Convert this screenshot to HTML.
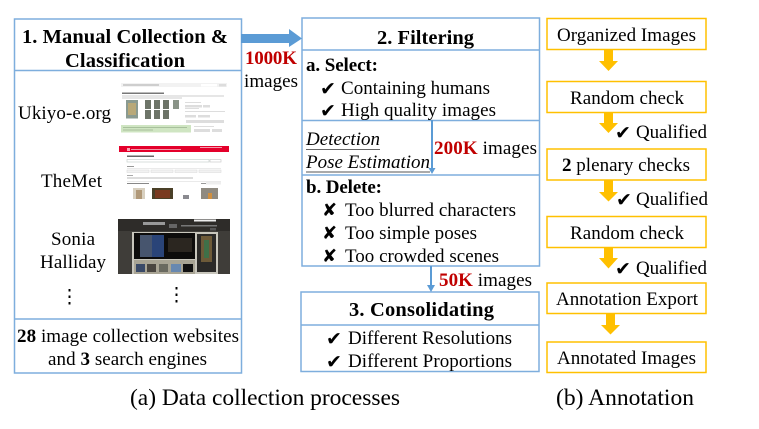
<!DOCTYPE html>
<html><head><meta charset="utf-8"><style>
html,body{margin:0;padding:0;background:#fff;width:759px;height:429px;overflow:hidden}
svg{display:block}
text{font-family:"Liberation Serif",serif;fill:#000;font-size:19px}
.b{font-weight:bold}
.t{font-weight:bold;font-size:20.5px}
.c{font-family:"DejaVu Sans",sans-serif;font-size:19px}
.x{font-family:"DejaVu Sans",sans-serif;font-size:18px}
.cap{font-size:23.5px}
.r{fill:#c00000;font-weight:bold}
</style></head><body>
<svg width="759" height="429" viewBox="0 0 759 429" xmlns="http://www.w3.org/2000/svg">
<!-- left box -->
<g fill="none" stroke="#7eaedd" stroke-width="1.5">
<rect x="14.5" y="19" width="227" height="354"/>
<path d="M14.5 70.5H241.5M14.5 319H241.5"/>
<rect x="302" y="18" width="237.5" height="248"/>
<path d="M302 50H539.5M302 120.5H539.5M302 175H539.5"/>
<rect x="301" y="292" width="238" height="79.500"/>
<path d="M301 325H539"/>
</g>
<!-- blue arrows -->
<path d="M241 34H289V29L302 38.500L289 47V43H241Z" fill="#5b9bd5"/>
<path d="M432 120V168M431 266V286" stroke="#5b9bd5" stroke-width="2" fill="none"/>
<path d="M428.500 168H435.500L432 174Z" fill="#5b9bd5"/>
<path d="M427 285H435L431 292Z" fill="#5b9bd5"/>
<!-- right boxes -->
<g fill="none" stroke="#ffc000" stroke-width="1.500">
<rect x="547" y="18.500" width="159" height="31"/>
<rect x="547" y="81.500" width="159" height="31"/>
<rect x="547" y="149" width="159" height="31"/>
<rect x="547" y="216.500" width="159" height="31"/>
<rect x="547" y="283" width="159" height="30.500"/>
<rect x="547" y="342" width="159" height="30.500"/>
</g>
<g fill="#ffc000">
<path d="M604 50H613V61H618L608.500 71L599 61H604Z"/>
<path d="M604 113H613V123H618L608.500 133L599 123H604Z"/>
<path d="M604 180H613V192H618L608.500 201.500L599 192H604Z"/>
<path d="M604 247H613V258H618L608.500 268.500L599 258H604Z"/>
<path d="M606 314H615V325H620L610.500 334.500L601 325H606Z"/>
</g>
<!-- Ukiyo screenshot -->
<rect x="121" y="83" width="106" height="4" fill="#f2f2f2"/>
<rect x="123" y="84.500" width="36" height="1" fill="#aaa"/>
<rect x="201" y="84" width="16" height="2.500" fill="#fff"/>
<rect x="219" y="84" width="7" height="2.500" fill="#ddd"/>
<rect x="122" y="92.500" width="42" height="1.500" fill="#777"/>
<rect x="122" y="95.500" width="102" height="1" fill="#ccc"/>
<rect x="122" y="97.500" width="60" height="1" fill="#ccc"/>
<rect x="126" y="100" width="12" height="18.500" fill="#8a9a90"/>
<rect x="128" y="103" width="8" height="12" fill="#b8a878"/>
<g fill="#6d7468">
<rect x="145" y="100" width="6" height="9"/><rect x="154" y="100" width="6" height="9"/><rect x="163" y="100" width="6" height="9"/><rect x="173" y="100" width="6" height="9" fill="#8a9488"/>
<rect x="145" y="110" width="6" height="9"/><rect x="154" y="110" width="6" height="9"/><rect x="163" y="110" width="6" height="9"/>
</g>
<g fill="#ddd">
<rect x="185" y="102" width="16" height="1"/><rect x="185" y="105" width="17" height="2.500"/><rect x="203" y="105" width="7" height="2.500"/>
<rect x="185" y="108" width="14" height="1"/><rect x="185" y="111" width="40" height="1"/>
<rect x="185" y="115" width="11" height="2.500"/><rect x="198" y="115" width="12" height="2.500"/>
<rect x="186" y="120" width="26" height="3"/><rect x="212" y="120" width="12" height="3"/>
<rect x="194" y="126" width="20" height="1"/><rect x="194" y="129" width="16" height="3"/><rect x="212" y="129" width="10" height="3"/>
</g>
<rect x="121" y="125" width="70" height="7.500" fill="#cfe5c2"/>
<rect x="123" y="127" width="64" height="1" fill="#a8c09c"/><rect x="123" y="129.500" width="30" height="1" fill="#a8c09c"/>
<!-- Met screenshot -->
<rect x="119" y="146" width="110" height="6" fill="#e4002b"/>
<rect x="127" y="148" width="3" height="3" fill="#f7a8b5"/>
<rect x="131" y="149" width="50" height="1" fill="#f29aaa"/>
<rect x="200" y="147" width="22" height="1" fill="#f29aaa"/>
<rect x="127" y="155.500" width="27" height="1.500" fill="#666"/>
<rect x="127" y="159.500" width="82" height="2.500" fill="#fff" stroke="#c9d2cf" stroke-width=".7"/>
<rect x="210" y="159.500" width="11" height="2.500" fill="#fff" stroke="#ccc" stroke-width=".7"/>
<rect x="127" y="166" width="7" height="1" fill="#999"/>
<rect x="127" y="168" width="94" height=".6" fill="#ddd"/>
<g fill="#f2f2f2" stroke="#ddd" stroke-width=".6">
<rect x="127" y="170" width="22" height="2.500"/><rect x="151" y="170" width="22" height="2.500"/><rect x="175" y="170" width="22" height="2.500"/><rect x="199" y="170" width="22" height="2.500"/>
</g>
<rect x="127" y="175" width="6" height="1" fill="#aaa"/>
<rect x="127" y="177.500" width="66" height="1" fill="#bbb"/>
<rect x="127" y="181" width="94" height=".6" fill="#ddd"/>
<rect x="127" y="183" width="22" height="1" fill="#888"/>
<rect x="201" y="183" width="5" height="1" fill="#999"/><rect x="206" y="182" width="15" height="2.500" fill="#eee"/>
<rect x="133" y="188" width="12" height="11" fill="#d8d0c0"/><rect x="136" y="190" width="6" height="9" fill="#b09878"/>
<rect x="152" y="188" width="21" height="11" fill="#4a4028"/><rect x="155" y="190" width="15" height="8" fill="#7a3a20"/>
<rect x="183" y="195" width="6" height="4" fill="#8a8a90"/>
<rect x="201" y="188" width="17" height="11" fill="#8f8a80"/><rect x="208" y="193" width="4" height="6" fill="#d09040"/>
<!-- Sonia screenshot -->
<rect x="118" y="219" width="112" height="55" fill="#3f3d39"/>
<rect x="118" y="219" width="112" height="12" fill="#2e2c29"/>
<rect x="194" y="219.500" width="22" height="2" fill="#eee"/>
<rect x="143" y="222" width="22" height="3" fill="#999"/>
<rect x="169" y="224" width="8" height="4" fill="#666"/>
<rect x="181" y="225" width="36" height="1.500" fill="#777"/>
<rect x="210" y="228" width="6" height="2.500" fill="#555"/>
<rect x="132" y="232" width="86" height="42" fill="#c8c6bc"/>
<rect x="134" y="233" width="61" height="26" fill="#0d0c0b"/>
<rect x="140" y="235" width="12" height="22" fill="#47556e"/>
<rect x="152" y="235" width="12" height="22" fill="#2a4478"/>
<rect x="168" y="238" width="24" height="14" fill="#2b2620"/>
<rect x="197" y="234" width="19" height="38" fill="#2b2a28"/>
<rect x="201" y="236" width="11" height="26" fill="#6d5a38"/>
<rect x="204" y="240" width="5" height="18" fill="#3f7048"/>
<rect x="134" y="260" width="61" height="14" fill="#a8a494"/>
<rect x="136" y="264" width="9" height="8" fill="#3a4a68"/><rect x="147" y="264" width="9" height="8" fill="#4a4640"/><rect x="159" y="264" width="9" height="8" fill="#6a6a60"/><rect x="171" y="264" width="10" height="8" fill="#6888b0"/><rect x="183" y="264" width="10" height="8" fill="#111"/>
<!-- left text -->
<text class="t" x="22" y="43" textLength="206">1. Manual Collection &amp;</text>
<text class="t" x="65" y="67" textLength="120">Classification</text>
<text x="18" y="119" textLength="93">Ukiyo-e.org</text>
<text x="41" y="187" textLength="61">TheMet</text>
<text x="51" y="245" textLength="44">Sonia</text>
<text x="40" y="268" textLength="66">Halliday</text>
<text x="69.500" y="303" text-anchor="middle">⋮</text>
<text x="176.500" y="301" text-anchor="middle">⋮</text>
<text x="17" y="342" textLength="222"><tspan class="b">28</tspan> image collection websites</text>
<text x="48" y="365" textLength="159">and <tspan class="b">3</tspan> search engines</text>
<text class="b" x="245" y="64" textLength="52" style="fill:#c00000">1000K</text>
<text x="244" y="87" textLength="54">images</text>
<!-- middle text -->
<text class="t" x="377" y="44" textLength="97">2. Filtering</text>
<text class="b" x="306" y="71" textLength="72">a. Select:</text>
<text class="c" x="320" y="95">✔</text>
<text x="341" y="94" textLength="149">Containing humans</text>
<text class="c" x="320" y="117">✔</text>
<text x="341" y="116" textLength="155">High quality images</text>
<text x="306" y="145" font-style="italic" textLength="74">Detection</text>
<path d="M306 149.500H380" stroke="#666" stroke-width="1"/>
<text x="306" y="168" font-style="italic" textLength="124">Pose Estimation</text>
<path d="M306 172H430" stroke="#777" stroke-width="1.300"/>
<text x="434" y="154" textLength="103"><tspan class="r">200K</tspan> images</text>
<text class="b" x="306" y="193" textLength="76">b. Delete:</text>
<text class="x" x="322" y="216">✘</text>
<text x="345" y="216" textLength="171">Too blurred characters</text>
<text class="x" x="322" y="239">✘</text>
<text x="345" y="239" textLength="132">Too simple poses</text>
<text class="x" x="322" y="262">✘</text>
<text x="345" y="262" textLength="154">Too crowded scenes</text>
<text x="439" y="286" textLength="93"><tspan class="r">50K</tspan> images</text>
<text class="t" x="349" y="316" textLength="145">3. Consolidating</text>
<text class="c" x="326" y="345">✔</text>
<text x="348" y="344" textLength="164">Different Resolutions</text>
<text class="c" x="326" y="368">✔</text>
<text x="348" y="367" textLength="164">Different Proportions</text>
<!-- right text -->
<text x="557" y="41" textLength="139">Organized Images</text>
<text x="570" y="104" textLength="114">Random check</text>
<text x="562" y="171" textLength="128"><tspan class="b">2</tspan> plenary checks</text>
<text x="570" y="239" textLength="114">Random check</text>
<text x="556" y="305" textLength="142">Annotation Export</text>
<text x="557" y="364" textLength="139">Annotated Images</text>
<text class="c" x="615" y="139">✔</text>
<text x="636" y="138" textLength="71">Qualified</text>
<text class="c" x="616" y="206">✔</text>
<text x="636" y="205" textLength="72">Qualified</text>
<text class="c" x="615" y="275">✔</text>
<text x="636" y="274" textLength="71">Qualified</text>
<!-- captions -->
<text class="cap" x="130" y="405" textLength="270">(a) Data collection processes</text>
<text class="cap" x="556" y="405" textLength="138">(b) Annotation</text>
</svg>
</body></html>
